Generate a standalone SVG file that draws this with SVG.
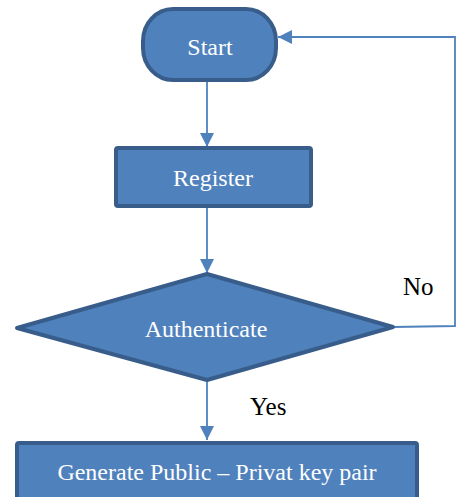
<svg xmlns="http://www.w3.org/2000/svg" width="456" height="497" viewBox="0 0 456 497">
<style>
.node{fill:#4F81BD;stroke:#385D8A;stroke-width:4;stroke-linejoin:round}
.lbl{font-family:"Liberation Serif","Times New Roman",serif;font-size:24px;fill:#FFFFFF;text-anchor:middle}
.edge{font-family:"Liberation Serif","Times New Roman",serif;font-size:25px;fill:#000000}
.conn{fill:none;stroke:#4F81BD;stroke-width:1.8}
</style>
<defs>
<marker id="arrB" viewBox="0 0 10 10" refX="10" refY="5" markerWidth="14" markerHeight="14" markerUnits="userSpaceOnUse" orient="auto">
<path d="M0,0 L10,5 L0,10 z" fill="#4F81BD"/>
</marker>
</defs>
<g id="connectors">
<path class="conn" d="M207,80 L207,147" marker-end="url(#arrB)"/>
<path class="conn" d="M207,206 L207,273" marker-end="url(#arrB)"/>
<path class="conn" d="M207,380 L207,440" marker-end="url(#arrB)"/>
<path class="conn" d="M393,327 L455,326 L455,37 L278,37" marker-end="url(#arrB)"/>
<text class="edge" x="403" y="295">No</text>
<text class="edge" x="250" y="415">Yes</text>
</g>
<g id="start">
<rect class="node" x="143" y="9" width="133" height="71" rx="30" ry="32"/>
<text class="lbl" x="210" y="55">Start</text>
</g>
<g id="register">
<rect class="node" x="116" y="148" width="195" height="58" rx="2"/>
<text class="lbl" x="213" y="186">Register</text>
</g>
<g id="authenticate">
<polygon class="node" points="207,274 393,327 207,380 17,328"/>
<text class="lbl" x="206" y="337">Authenticate</text>
</g>
<g id="generate">
<rect class="node" x="17" y="443" width="400" height="60" rx="2"/>
<text class="lbl" x="217" y="480">Generate Public – Privat key pair</text>
</g>
</svg>
